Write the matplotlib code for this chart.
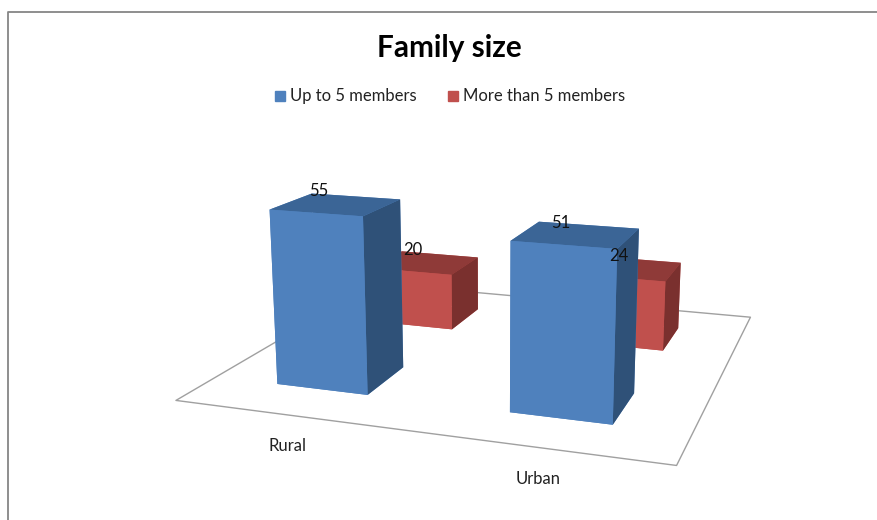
import matplotlib
matplotlib.use('Agg')
import matplotlib.pyplot as plt
from matplotlib.patches import Rectangle
from mpl_toolkits.mplot3d.art3d import Poly3DCollection

plt.rcParams['font.family'] = ['Lato', 'DejaVu Sans']

title = "Family size"
categories = ["Rural", "Urban"]
series_names = ["Up to 5 members", "More than 5 members"]
up_to_5 = [55, 51]
more_than_5 = [20, 24]

# face colours in the order bar3d wants: bottom, top, front, back, left, right
blue = ['#4f81bd', '#3b6596', '#4f81bd', '#4f81bd', '#4f81bd', '#2f5178']
red = ['#c0504d', '#8f3a38', '#c0504d', '#c0504d', '#c0504d', '#7a302e']

W, H = 877, 520


def fx(px):
    return px / W


def fy(py):
    return 1 - py / H


fig = plt.figure(figsize=(W / 100, H / 100), dpi=100)
# view found by fitting the bar corners of the picture
ax = fig.add_axes([47.11 / W, -13.61 / H, 1, 1], projection='3d')
ax.set_axis_off()
ax.computed_zorder = False
ax.view_init(elev=13.9968, azim=-71.0868)
ax.set_proj_type('persp', focal_length=0.4388)
ax.set_box_aspect((1, 0.9627, 0.3988), zoom=1.2398)

floor = Poly3DCollection([[(0, 0, 0), (2, 0, 0), (2, 2, 0), (0, 2, 0)]],
                         facecolor='white', edgecolor='#a0a0a0', linewidth=1, zorder=1)
ax.add_collection3d(floor)
floor.set_clip_on(False)

x_left = [0.2907, 1.2977]
bar_w = 0.4063
bar_d = 0.3797
for i in range(2):
    # back row first so the front row goes over it
    back = ax.bar3d(x_left[i], 1.3033, 0, bar_w, bar_d, more_than_5[i], color=red, shade=False, zorder=2 + 2 * i)
    front = ax.bar3d(x_left[i], 0.3113, 0, bar_w, bar_d, up_to_5[i], color=blue, shade=False, zorder=3 + 2 * i)
    back.set_clip_on(False)
    front.set_clip_on(False)

ax.set_xlim(0, 2)
ax.set_ylim(0, 2)
ax.set_zlim(0, 60)
ax.set_xticks([])
ax.set_yticks([])
ax.set_zticks([])

blue_label_xy = [(319, 191), (561, 223)]
red_label_xy = [(413, 250), (619, 256)]
cat_label_xy = [(288, 446), (538, 479)]
for i in range(2):
    fig.text(fx(blue_label_xy[i][0]), fy(blue_label_xy[i][1]), str(up_to_5[i]), fontsize=12, ha='center', va='center', color='#111111')
    fig.text(fx(red_label_xy[i][0]), fy(red_label_xy[i][1]), str(more_than_5[i]), fontsize=12, ha='center', va='center', color='#111111')
    fig.text(fx(cat_label_xy[i][0]), fy(cat_label_xy[i][1]), categories[i], fontsize=12, ha='center', va='center', color='#222222')

fig.text(fx(449), fy(48), title, fontsize=21.4, fontweight='bold', ha='center', va='center')
fig.text(fx(290), fy(96), series_names[0], fontsize=12, va='center', color='#222222')
fig.text(fx(463), fy(96), series_names[1], fontsize=12, va='center', color='#222222')
fig.add_artist(Rectangle((fx(275), fy(101)), 10 / W, 10 / H, color='#4f81bd', transform=fig.transFigure))
fig.add_artist(Rectangle((fx(448), fy(101)), 10 / W, 10 / H, color='#c0504d', transform=fig.transFigure))

# chart frame, only the left and top edges are in the picture
fig.add_artist(plt.Line2D([fx(7.5), fx(7.5), 1], [0, fy(12), fy(12)], color='#868686', linewidth=1.3))

fig.savefig("out.png", dpi=100)
